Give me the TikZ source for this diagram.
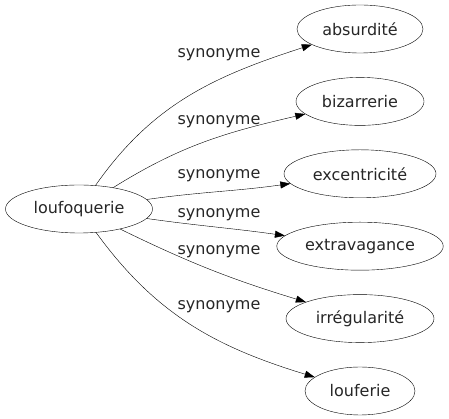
\documentclass[tikz,border=0pt]{standalone}
\usepackage{fontspec}
\setmainfont{DejaVu Sans}
\usepackage{tikz}
\usetikzlibrary{arrows.meta,positioning,shapes.geometric}

\begin{document}
\begin{tikzpicture}[x=1pt, y=1pt, node distance=24pt, >={Triangle[length=10pt,width=7pt]},
    word/.style={draw, ellipse, minimum height=48pt, inner xsep=4pt, font=\fontsize{16}{19}\selectfont, text=black!85},
    lbl/.style={font=\fontsize{16}{19}\selectfont, text=black!85}]
        \useasboundingbox (0,0) rectangle (449,419);
        \node[word, minimum width=147pt] (loufoquerie) at (79,210) {loufoquerie};
        \node[word, minimum width=126pt] (absurdite) at (360,390) {absurdité};
        \node[word, minimum width=128pt, below=of absurdite] (bizarrerie) {bizarrerie};
        \node[word, minimum width=152pt, below=of bizarrerie] (excentricite) {excentricité};
        \node[word, minimum width=165pt, below=of excentricite] (extravagance) {extravagance};
        \node[word, minimum width=148pt, below=of extravagance] (irregularite) {irrégularité};
        \node[word, minimum width=110pt, below=of irregularite] (louferie) {louferie};

        \draw[->] (loufoquerie) to[out=55, in=198] (absurdite);
        \draw[->] (loufoquerie) to[out=32, in=193] (bizarrerie);
        \draw[->] (loufoquerie) to[out=8, in=188] (excentricite);
        \draw[->] (loufoquerie) to[out=-8, in=172] (extravagance);
        \draw[->] (loufoquerie) to[out=-26, in=163] (irregularite);
        \draw[->] (loufoquerie) to[out=-54, in=163] (louferie);

        \node[lbl] (syn1) at (219,364) {synonyme};
        \node[lbl] (syn2) at (219,297) {synonyme};
        \node[lbl] (syn3) at (219,243) {synonyme};
        \node[lbl] (syn4) at (219,204) {synonyme};
        \node[lbl] (syn5) at (219,167) {synonyme};
        \node[lbl] (syn6) at (219,112) {synonyme};
    \end{tikzpicture}
\end{document}
